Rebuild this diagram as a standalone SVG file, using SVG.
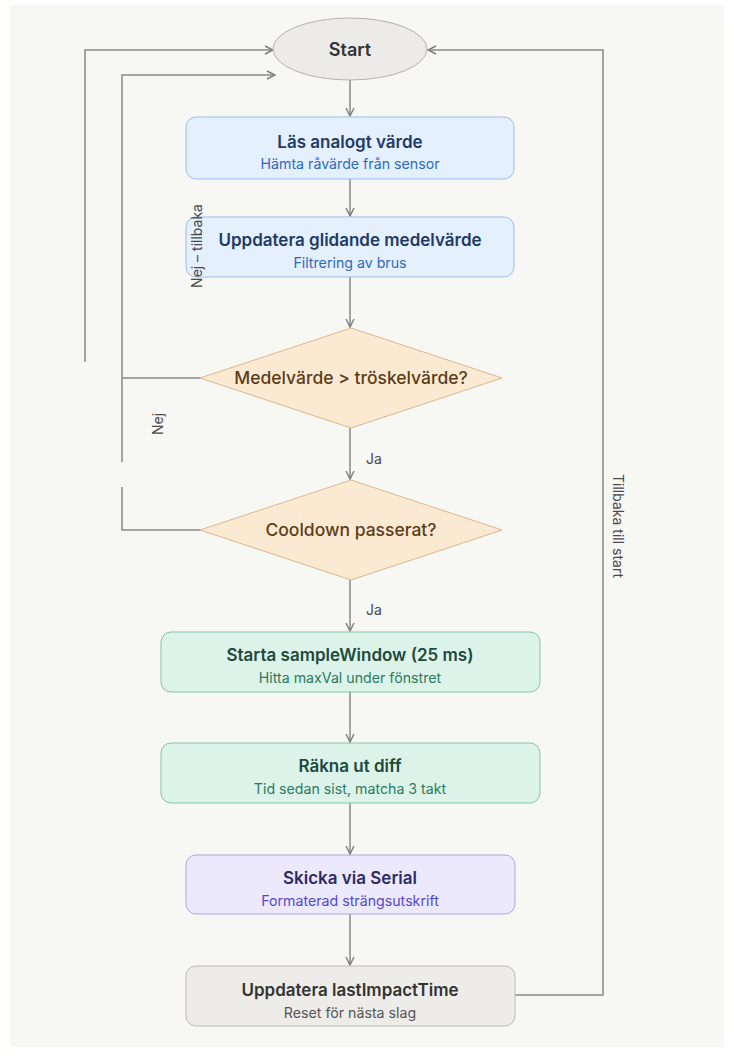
<svg xmlns="http://www.w3.org/2000/svg" width="734" height="1059" viewBox="0 0 734 1059">
<defs>
<marker id="arr" viewBox="0 0 10 10" refX="9" refY="5" markerWidth="10" markerHeight="10" markerUnits="userSpaceOnUse" orient="auto">
<path d="M1,1 L9,5 L1,9" fill="none" stroke="#7d7d7d" stroke-width="1.4"/>
</marker>
<style>
text{font-family:Inter,"Noto Sans","Liberation Sans",sans-serif;text-anchor:middle}
.t{font-size:17px;font-weight:600}
.s{font-size:14.2px;font-weight:400}
.e{fill:none;stroke:#8a8a8a;stroke-width:1.5}
.lbl{font-size:14px;fill:#4a4a4a}
.lbs{text-anchor:start}
.blue rect{fill:#e4f0fd;stroke:#9cbde9}
.blue .t{fill:#1f3a66}.blue .s{fill:#2f6ac2}
.dia polygon{fill:#fbe9d2;stroke:#d8b98e}
.dia text{fill:#5b3d19;font-size:17.5px;font-weight:500}
.green rect{fill:#dcf3ea;stroke:#86c3aa}
.green .t{fill:#1e4a3b}.green .s{fill:#2d7a60}
.purple rect{fill:#ece9fd;stroke:#aca5e8}
.purple .t{fill:#2e2a68}.purple .s{fill:#5548c8}
.gray rect{fill:#edece8;stroke:#bcbab3}
.gray .t{fill:#333333}.gray .s{fill:#555555}
</style>
</defs>
<rect x="0" y="0" width="734" height="1059" fill="#ffffff"/>
<rect x="10" y="5" width="714" height="1042" fill="#f7f7f4"/>

<g id="connectors">
<line class="e" x1="350" y1="80" x2="350" y2="116" marker-end="url(#arr)"/>
<line class="e" x1="350" y1="179" x2="350" y2="216" marker-end="url(#arr)"/>
<line class="e" x1="350" y1="277" x2="350" y2="327" marker-end="url(#arr)"/>
<line class="e" x1="350" y1="428" x2="350" y2="479" marker-end="url(#arr)"/>
<line class="e" x1="350" y1="580" x2="350" y2="631" marker-end="url(#arr)"/>
<line class="e" x1="350" y1="692" x2="350" y2="742" marker-end="url(#arr)"/>
<line class="e" x1="350" y1="803" x2="350" y2="854" marker-end="url(#arr)"/>
<line class="e" x1="350" y1="914" x2="350" y2="965" marker-end="url(#arr)"/>
<polyline class="e" points="515,995 603,995 603,50 428,50" marker-end="url(#arr)"/>
<polyline class="e" points="85,362 85,50 273,50" marker-end="url(#arr)"/>
<line class="e" x1="200" y1="378" x2="122" y2="378"/>
<polyline class="e" points="122,462 122,75 275,75" marker-end="url(#arr)"/>
<polyline class="e" points="122,487 122,530 200,530"/>
</g>

<g id="start" class="gray">
<ellipse cx="350" cy="49" rx="77" ry="31" fill="#ecebe7" stroke="#b5b3ac" stroke-width="1"/>
<text class="t" x="350" y="55.5" fill="#333333" style="font-size:18px">Start</text>
</g>

<g id="n1" class="blue">
<rect x="186" y="117" width="328" height="62" rx="10"/>
<text class="t" x="350" y="148">Läs analogt värde</text>
<text class="s" x="350" y="169">Hämta råvärde från sensor</text>
</g>

<g id="n2" class="blue">
<rect x="186" y="217" width="328" height="60" rx="10"/>
<text class="t" x="350" y="246">Uppdatera glidande medelvärde</text>
<text class="s" x="350" y="268">Filtrering av brus</text>
</g>

<g id="d1" class="dia">
<polygon points="351,328 502,378 351,428 200,378"/>
<text x="351" y="384">Medelvärde &gt; tröskelvärde?</text>
</g>

<g id="d2" class="dia">
<polygon points="351,480 502,530 351,580 200,530"/>
<text x="351" y="536">Cooldown passerat?</text>
</g>

<g id="n3" class="green">
<rect x="161" y="632" width="379" height="60" rx="10"/>
<text class="t" x="350" y="661">Starta sampleWindow (25 ms)</text>
<text class="s" x="350" y="683">Hitta maxVal under fönstret</text>
</g>

<g id="n4" class="green">
<rect x="161" y="743" width="379" height="60" rx="10"/>
<text class="t" x="350" y="772">Räkna ut diff</text>
<text class="s" x="350" y="794">Tid sedan sist, matcha 3 takt</text>
</g>

<g id="n5" class="purple">
<rect x="186" y="855" width="329" height="59" rx="10"/>
<text class="t" x="350" y="884">Skicka via Serial</text>
<text class="s" x="350" y="906">Formaterad strängsutskrift</text>
</g>

<g id="n6" class="gray">
<rect x="186" y="966" width="329" height="60" rx="10"/>
<text class="t" x="350" y="996">Uppdatera lastImpactTime</text>
<text class="s" x="350" y="1018">Reset för nästa slag</text>
</g>

<g id="connector-labels">
<text class="lbl lbs" x="366" y="464">Ja</text>
<text class="lbl lbs" x="366" y="615">Ja</text>
<text class="lbl" transform="translate(202,246) rotate(-90)">Nej – tillbaka</text>
<text class="lbl" transform="translate(163,424) rotate(-90)">Nej</text>
<text class="lbl" transform="translate(613,526) rotate(90)">Tillbaka till start</text>
</g>
</svg>
